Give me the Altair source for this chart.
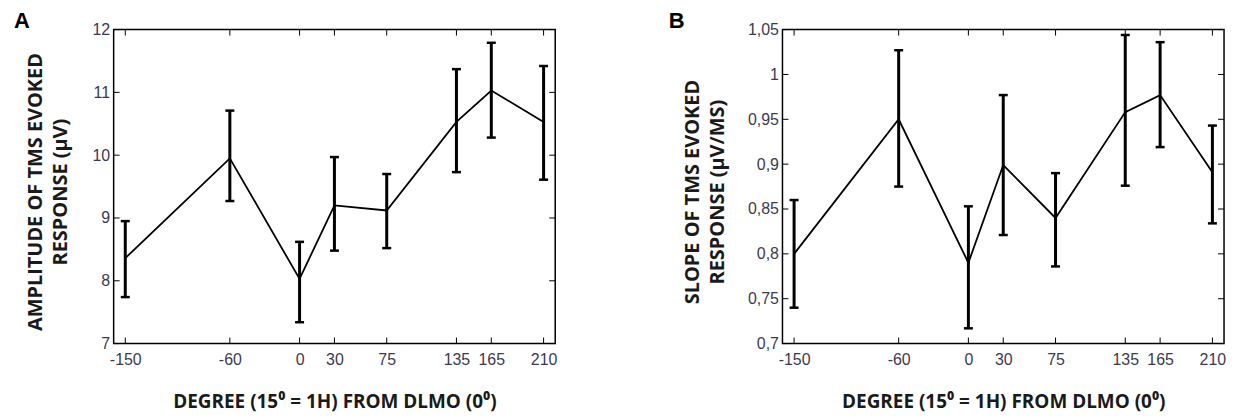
import altair as alt
import pandas as pd

# ---- data ----
degrees = [-150, -60, 0, 30, 75, 135, 165, 210]

amp_mean = [8.36, 9.95, 8.03, 9.20, 9.12, 10.53, 11.03, 10.53]
amp_upper = [8.95, 10.71, 8.62, 9.97, 9.70, 11.37, 11.79, 11.42]
amp_lower = [7.74, 9.27, 7.34, 8.48, 8.52, 9.73, 10.28, 9.61]

slope_mean = [0.800, 0.950, 0.790, 0.899, 0.840, 0.958, 0.977, 0.891]
slope_upper = [0.860, 1.027, 0.853, 0.977, 0.890, 1.044, 1.036, 0.943]
slope_lower = [0.740, 0.875, 0.717, 0.821, 0.786, 0.876, 0.919, 0.834]

x_ticks = [-150, -60, 0, 30, 75, 135, 165, 210]
amp_ticks = [7, 8, 9, 10, 11, 12]
slope_ticks = [0.7, 0.75, 0.8, 0.85, 0.9, 0.95, 1.0, 1.05]

x_domain = [-160, 220]
amp_domain = [7, 12]
slope_domain = [0.7, 1.05]

x_title = "DEGREE (15\u2070 = 1H) FROM DLMO (0\u2070)"
amp_title = ["AMPLITUDE OF TMS EVOKED", "RESPONSE (\u03bcV)"]
slope_title = ["SLOPE OF TMS  EVOKED", "RESPONSE (\u03bcV/MS)"]
panel_letters = ["A", "B"]

W, H = 443, 315
LABEL_COLOR = "#3c3a50"
TITLE_COLOR = "#1a1a1a"
TICK_LEN = 6


def panel(mean, lower, upper, yticks, ydomain, ytitle, letter, title_x, letter_x):
    df = pd.DataFrame({"deg": degrees, "mean": mean, "lo": lower, "hi": upper})
    xt = pd.DataFrame({"deg": x_ticks})
    yt = pd.DataFrame({"mean": yticks})
    lt = pd.DataFrame({"letter": [letter]})

    xs = alt.Scale(domain=x_domain, nice=False, zero=False)
    ys = alt.Scale(domain=ydomain, nice=False, zero=False)

    xaxis = alt.Axis(
        values=x_ticks, ticks=False, tickSize=0, domain=False, grid=False,
        labelFont="Liberation Sans", labelFontSize=16, labelColor=LABEL_COLOR,
        labelPadding=8, labelFlush=False, labelOverlap=False,
        labelExpr="toString(datum.value)",
        title=x_title, titleFont="Open Sans", titleFontWeight="bold",
        titleFontSize=19, titleColor=TITLE_COLOR, titleY=58,
        titleBaseline="middle", titleAlign="center", titleX=W / 2,
    )
    yaxis = alt.Axis(
        values=yticks, ticks=False, tickSize=0, domain=False, grid=False,
        labelFont="Liberation Sans", labelFontSize=16, labelColor=LABEL_COLOR,
        labelPadding=4, labelFlush=False, labelOverlap=False,
        labelExpr="replace(toString(datum.value), '.', ',')",
        title=ytitle, titleFont="Open Sans", titleFontWeight="bold",
        titleFontSize=20, titleColor=TITLE_COLOR, titleAngle=270,
        titleX=title_x, titleY=H / 2 + 5, titleAlign="center",
        titleBaseline="middle", titleLineHeight=25,
    )

    X = alt.X("deg:Q", scale=xs, axis=xaxis)

    line = alt.Chart(df).mark_line(color="black", strokeWidth=1.8).encode(
        x=X, y=alt.Y("mean:Q", scale=ys, axis=yaxis)
    )
    bars = alt.Chart(df).mark_rule(color="black", strokeWidth=3).encode(
        x=X, y=alt.Y("lo:Q", scale=ys, axis=yaxis), y2="hi:Q"
    )
    cap_lo = alt.Chart(df).mark_tick(
        color="black", orient="horizontal", size=9, thickness=2.5, opacity=1
    ).encode(x=X, y=alt.Y("lo:Q", scale=ys, axis=yaxis))
    cap_hi = alt.Chart(df).mark_tick(
        color="black", orient="horizontal", size=9, thickness=2.5, opacity=1
    ).encode(x=X, y=alt.Y("hi:Q", scale=ys, axis=yaxis))

    tick_bottom = alt.Chart(xt).mark_rule(color="black", strokeWidth=1).encode(
        x=X, y=alt.value(H), y2=alt.value(H - TICK_LEN)
    )
    tick_top = alt.Chart(xt).mark_rule(color="black", strokeWidth=1).encode(
        x=X, y=alt.value(0), y2=alt.value(TICK_LEN)
    )
    tick_left = alt.Chart(yt).mark_rule(color="black", strokeWidth=1).encode(
        y=alt.Y("mean:Q", scale=ys, axis=yaxis), x=alt.value(0), x2=alt.value(TICK_LEN)
    )
    tick_right = alt.Chart(yt).mark_rule(color="black", strokeWidth=1).encode(
        y=alt.Y("mean:Q", scale=ys, axis=yaxis), x=alt.value(W), x2=alt.value(W - TICK_LEN)
    )
    letter_mark = alt.Chart(lt).mark_text(
        font="Liberation Sans", fontWeight="bold", fontSize=22, color="black",
        align="left", baseline="alphabetic",
    ).encode(text="letter:N", x=alt.value(letter_x), y=alt.value(-2))

    return alt.layer(
        tick_bottom, tick_top, tick_left, tick_right,
        line, bars, cap_lo, cap_hi, letter_mark,
    ).properties(width=W, height=H)


pa = panel(amp_mean, amp_lower, amp_upper, amp_ticks, amp_domain, amp_title,
           panel_letters[0], -78, -100)
pb = panel(slope_mean, slope_lower, slope_upper, slope_ticks, slope_domain, slope_title,
           panel_letters[1], -90, -114)

chart = alt.hconcat(pa, pb, spacing=228, bounds="flush").properties(
    padding={"left": 5, "top": 0, "right": 5, "bottom": 0}
).configure_view(stroke="black", strokeWidth=1.5)

chart.save("out.html", embed_options={"renderer": "svg", "actions": False})
